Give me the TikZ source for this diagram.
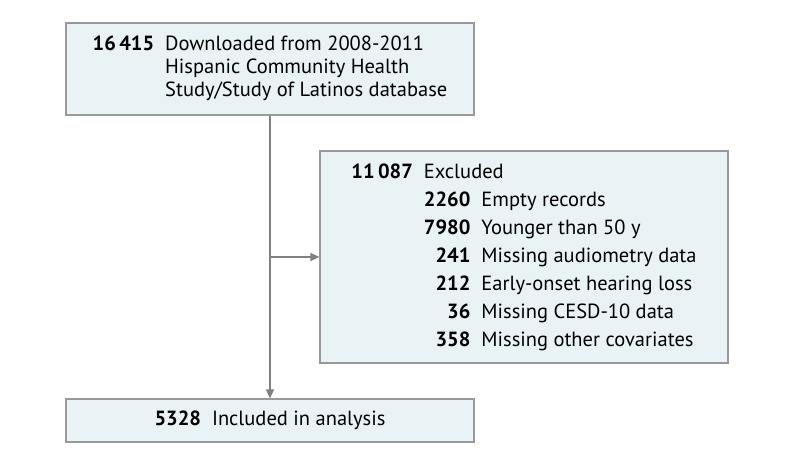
\documentclass[tikz,border=0pt]{standalone}
\usepackage{fontspec}
\setmainfont{PT Sans}
\usetikzlibrary{arrows.meta}
\definecolor{cajafondo}{HTML}{E9F3F5}
\definecolor{cajaborde}{HTML}{999999}
\definecolor{flecha}{HTML}{808080}
\begin{document}
\begin{tikzpicture}[
    x=1pt,
    y=-1pt,
    font=\fontsize{20.5}{23}\selectfont,
    caja/.style={draw=cajaborde,fill=cajafondo,line width=1.2pt,inner sep=0pt},
    camino/.style={flecha,line width=1.5pt,-{Triangle[length=9pt,width=8pt]}}
]
    \useasboundingbox (0,0) rectangle (794,462);

    % Registros descargados
    \node[caja,minimum width=408,minimum height=92] (src) at (270,69)
        {\begin{tabular}{@{}r@{\hspace{11pt}}l@{}}
            \textbf{16\,415} & Downloaded from 2008-2011\\
                             & Hispanic Community Health\\
                             & Study/Study of Latinos database
        \end{tabular}};

    % Exclusiones
    \node[caja,minimum width=408,minimum height=212] (excl) at (524,257)
        {\renewcommand{\arraystretch}{1.22}%
        \begin{tabular}{@{}r@{\hspace{11pt}}r@{\hspace{11pt}}l@{}}
            \textbf{11\,087} & \multicolumn{2}{@{}l@{}}{Excluded}\\
            & \textbf{2260} & Empty records\\
            & \textbf{7980} & Younger than 50 y\\
            & \textbf{241}  & Missing audiometry data\\
            & \textbf{212}  & Early-onset hearing loss\\
            & \textbf{36}   & Missing CESD-10 data\\
            & \textbf{358}  & Missing other covariates
        \end{tabular}};

    % Muestra final
    \node[caja,minimum width=408,minimum height=43] (incl) at (270,420.5)
        {\textbf{5328}\hspace{11pt}Included in analysis};

    % Conectores
    \draw[camino] (src.south) -- (incl.north);
    \coordinate (rama) at (src.south |- excl.west);
    \draw[camino] (rama) -- (excl.west);
\end{tikzpicture}
\end{document}
